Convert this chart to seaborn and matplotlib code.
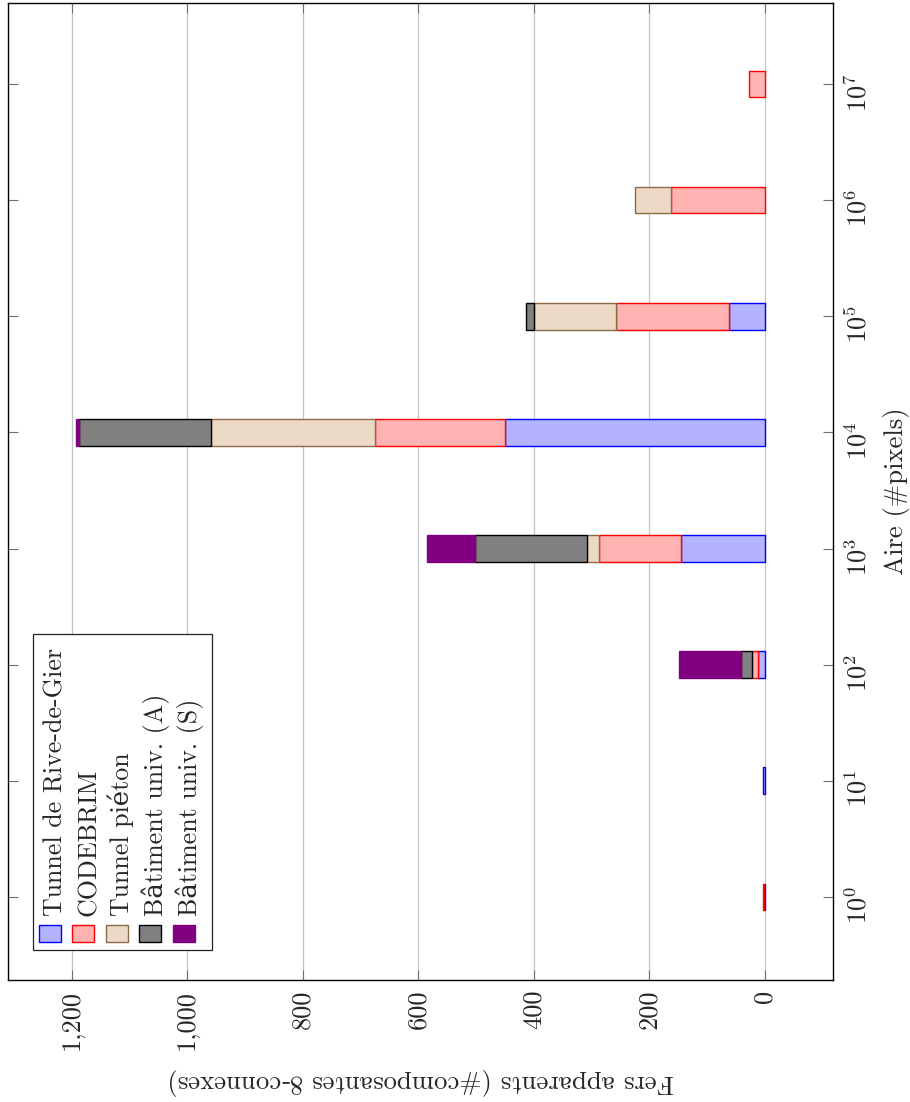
import matplotlib
matplotlib.use("Agg")
import matplotlib.pyplot as plt
import matplotlib.ticker as mticker
from matplotlib.patches import Rectangle
from matplotlib.transforms import Affine2D
import numpy as np
import seaborn as sns

# aire des composantes (#pixels), une barre empilée par décade
areas = [1, 10, 100, 1000, 10000, 100000, 1000000, 10000000]
datasets = ["Tunnel de Rive-de-Gier", "CODEBRIM", "Tunnel piéton",
            "Bâtiment univ. (A)", "Bâtiment univ. (S)"]
tunnel_rdg = [1, 3, 12, 145, 449, 62, 0, 0]
codebrim = [2, 0, 10, 142, 225, 195, 163, 28]
tunnel_pieton = [0, 0, 0, 20, 284, 143, 62, 0]
batiment_a = [0, 0, 19, 194, 229, 13, 0, 0]
batiment_s = [0, 0, 108, 84, 5, 0, 0, 0]
value_ticks = [0, 200, 400, 600, 800, 1000, 1200]

fills = ["#b3b3ff", "#ffb3b3", "#ecd9c6", "#808080", "#800080"]
edges = ["#0000ff", "#ff0000", "#8c6a46", "#000000", "#800080"]

sns.set_style("white")
plt.rcParams["font.family"] = ["cmr10", "DejaVu Serif"]
plt.rcParams["mathtext.fontset"] = "cm"
plt.rcParams["axes.formatter.use_mathtext"] = True

W, H = 910, 1102
fig = plt.figure(figsize=(W / 100, H / 100), dpi=100)
ax = fig.add_axes([7.5 / W, 1 - 980 / H, 825.5 / W, 977 / H])

series = [tunnel_rdg, codebrim, tunnel_pieton, batiment_a, batiment_s]
area_arr = np.array(areas, dtype=float)
half = 0.115  # demi-épaisseur des barres, en décades
lo = area_arr * 10 ** -half
hi = area_arr * 10 ** half
left = np.zeros(len(areas))
for vals, fc, ec in zip(series, fills, edges):
    vals = np.array(vals, dtype=float)
    m = vals > 0
    ax.barh(lo[m], vals[m], height=(hi - lo)[m], left=left[m], align="edge",
            color=fc, edgecolor=ec, linewidth=1.0, zorder=3)
    left += vals

ax.set_yscale("log")
ax.set_ylim(10 ** -0.715, 10 ** 7.697)
ax.set_xlim(1311, -118)

ax.set_xticks(value_ticks)
ax.xaxis.set_major_formatter(mticker.FuncFormatter(lambda v, p: f"{int(v):,}"))
ax.set_yticks(areas)
ax.set_yticklabels([f"$10^{{{int(round(np.log10(a)))}}}$" for a in areas])
ax.yaxis.set_minor_locator(mticker.NullLocator())

ax.tick_params(axis="x", direction="in", top=True, bottom=True, length=7.5,
               width=0.8, color="#707070", labelrotation=90, pad=7, labelsize=19)
ax.tick_params(axis="y", direction="in", left=True, right=True, labelleft=False,
               labelright=True, length=7.5, width=0.8, color="#707070",
               labelrotation=90, pad=8.5, labelsize=19)

ax.grid(axis="x", color="#c4c4c4", linewidth=0.9, zorder=0)
ax.set_axisbelow(True)
for s in ax.spines.values():
    s.set_color("black")
    s.set_linewidth(1.0)

ax.yaxis.set_label_position("right")
ax.set_ylabel("Aire (#pixels)", rotation=90, fontsize=19.2, labelpad=8)
ax.set_xlabel("Fers apparents (#composantes 8-connexes)", rotation=180,
              fontsize=19.2, labelpad=13)

# légende tournée, comme dans la figure d'origine
px = Affine2D().scale(1 / W, -1 / H).translate(0, 1) + fig.transFigure
fig.patches.append(Rectangle((33, 634), 179, 316, transform=px, facecolor="white",
                             edgecolor="#222222", linewidth=0.9, zorder=5))
for i, (name, fc, ec) in enumerate(zip(datasets, fills, edges)):
    cx = 49.5 + 33.5 * i
    fig.patches.append(Rectangle((cx - 11, 925), 22, 16.7, transform=px,
                                 facecolor=fc, edgecolor=ec, linewidth=1.0, zorder=6))
    fig.text(cx + 13, 916, name, transform=px, rotation=90, rotation_mode="anchor",
             ha="left", va="baseline", fontsize=18.7, zorder=6)

fig.savefig("out.png", dpi=100)
